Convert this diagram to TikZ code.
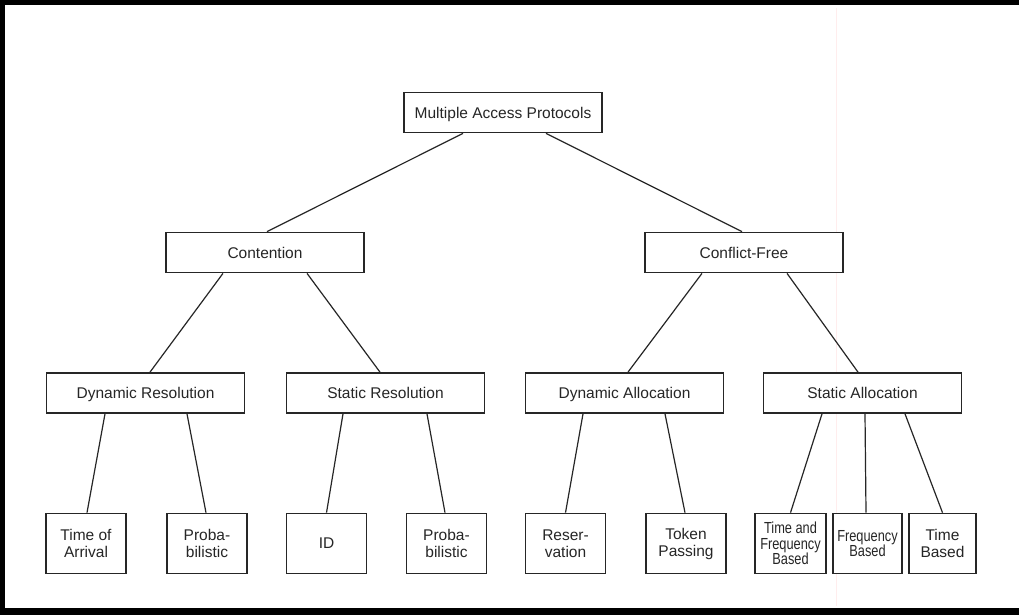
\documentclass[tikz,border=0pt]{standalone}
\usepackage{fontspec}
\setmainfont{Liberation Sans}
\newfontfamily\narrowsans[FakeStretch=0.8]{Liberation Sans}
\begin{document}
\begin{tikzpicture}[x=1pt,y=-1pt,
  box/.style={draw=black!85, line width=1.7pt, fill=white, inner sep=0pt,
    align=center, text=black!85, font=\fontsize{15.5}{17}\selectfont},
  midbox/.style={box, minimum height=40pt, minimum width=198pt,
    text height=12pt, text depth=1pt},
  leaf/.style={box, minimum height=60pt, minimum width=80pt},
  narrowleaf/.style={leaf, font=\narrowsans\fontsize{16}{15.5}\selectfont},
  link/.style={draw=black!85, line width=1.2pt}
]
\useasboundingbox (0,0) rectangle (1019,615);
\fill[white] (0,0) rectangle (1019,615);

% heavy frame on top, left and bottom
\fill[black] (0,0) rectangle (1019,5);
\fill[black] (0,0) rectangle (5,615);
\fill[black] (0,608) rectangle (1019,615);

% faint crease in the paper
\draw[red!7, line width=0.8pt] (836,8) -- (836,606);

% root
\node[midbox] (mac) at (503,112.5) {Multiple Access Protocols};

% second level
\node[midbox] (cont) at (265,252.5) {Contention};
\node[midbox] (cfree) at (744,252.5) {Conflict-Free};

% third level
\node[midbox] (dres) at (145.5,393) {Dynamic Resolution};
\node[midbox] (sres) at (385.5,393) {Static Resolution};
\node[midbox] (dall) at (624.5,393) {Dynamic Allocation};
\node[midbox] (sall) at (862.5,393) {Static Allocation};

% leaves
\node[leaf] (toa) at (86,543.5) {Time of\\Arrival};
\node[leaf] (prob1) at (207,543.5) {Proba-\\bilistic};
\node[leaf] (id) at (326.5,543.5) {ID};
\node[leaf] (prob2) at (446.5,543.5) {Proba-\\bilistic};
\node[leaf] (resv) at (565.5,543.5) {Reser-\\vation};
\node[leaf] (token) at (686,543.5) {Token\\Passing};
\node[narrowleaf, minimum width=71pt] (tfb) at (790.5,543.5) {Time and\\Frequency\\Based};
\node[narrowleaf, minimum width=69pt] (fb) at (867.5,543.5) {Frequency\\Based};
\node[leaf, minimum width=67pt] (tb) at (942.5,543.5) {Time\\Based};

% connectors
\draw[link] ([xshift=-40pt]mac.south) -- ([xshift=2pt]cont.north);
\draw[link] ([xshift=43pt]mac.south) -- ([xshift=-2pt]cfree.north);

\draw[link] ([xshift=-42pt]cont.south) -- ([xshift=4.5pt]dres.north);
\draw[link] ([xshift=42pt]cont.south) -- ([xshift=-5.5pt]sres.north);
\draw[link] ([xshift=-42pt]cfree.south) -- ([xshift=3.5pt]dall.north);
\draw[link] ([xshift=43pt]cfree.south) -- ([xshift=-4.5pt]sall.north);

\draw[link] ([xshift=-40.5pt]dres.south) -- ([xshift=1pt]toa.north);
\draw[link] ([xshift=41.5pt]dres.south) -- ([xshift=-1pt]prob1.north);
\draw[link] ([xshift=-42.5pt]sres.south) -- (id.north);
\draw[link] ([xshift=41.5pt]sres.south) -- ([xshift=-1.5pt]prob2.north);
\draw[link] ([xshift=-41.5pt]dall.south) -- (resv.north);
\draw[link] ([xshift=40.5pt]dall.south) -- ([xshift=-1pt]token.north);
\draw[link] ([xshift=-40.5pt]sall.south) -- (tfb.north);
\draw[link] ([xshift=2.5pt]sall.south) -- ([xshift=-1.5pt]fb.north);
\draw[link] ([xshift=42.5pt]sall.south) -- (tb.north);
\end{tikzpicture}
\end{document}
